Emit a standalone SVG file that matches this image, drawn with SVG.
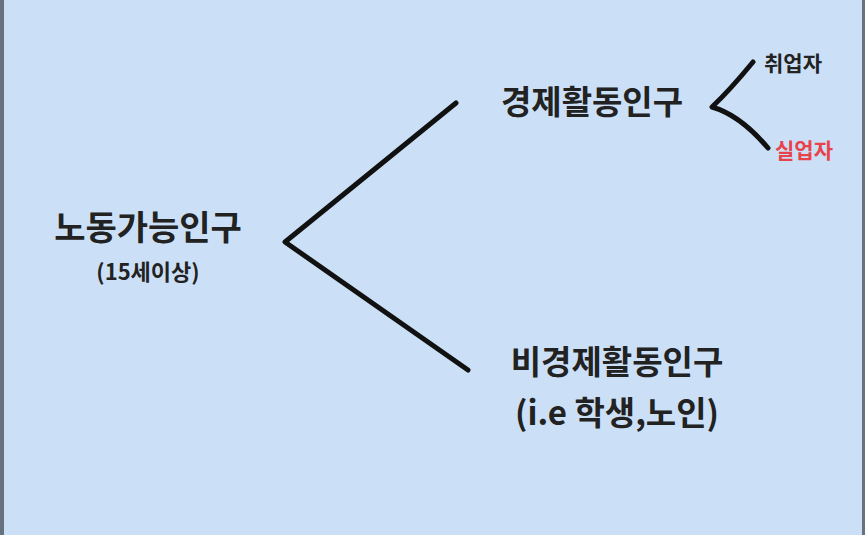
<svg xmlns="http://www.w3.org/2000/svg" width="865" height="535" viewBox="0 0 865 535">
<style>
text{font-family:"Noto Sans CJK KR","Noto Sans",sans-serif;font-weight:bold;fill:#222}
.l{fill:none;stroke:#111;stroke-width:5;stroke-linecap:round;stroke-linejoin:round}
</style>
<rect width="865" height="535" fill="#cbe0f6"/>
<rect x="0" y="0" width="4" height="535" fill="#66727d"/>
<rect x="862" y="0" width="3" height="535" fill="#66727d"/>
<g id="connectors">
<path class="l" d="M456,103 L285,242 L468,370"/>
<path class="l" d="M753,62 Q730,90 712,107 Q740,115 768,148"/>
</g>
<g id="n-labor"><text x="148" y="240" font-size="34" text-anchor="middle">노동가능인구</text><text x="148" y="280" font-size="22" text-anchor="middle">(15세이상)</text></g>
<g id="n-econ"><text x="592" y="114" font-size="33" text-anchor="middle">경제활동인구</text></g>
<g id="n-nonecon"><text x="617" y="374" font-size="33" text-anchor="middle">비경제활동인구</text><text x="617" y="425" font-size="33" text-anchor="middle">(i.e 학생,노인)</text></g>
<g id="n-emp"><text x="793" y="71" font-size="21" text-anchor="middle">취업자</text></g>
<g id="n-unemp"><text x="804" y="158" font-size="21" text-anchor="middle" style="fill:#e8434a">실업자</text></g>
</svg>
